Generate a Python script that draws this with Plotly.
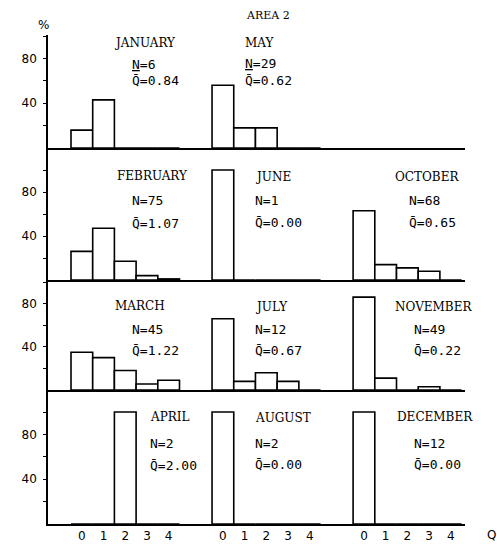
import plotly.graph_objects as go

# Q classes on the horizontal axis of every panel
q_classes = [0, 1, 2, 3, 4]

# Percentage of cases in each Q class, by month
january = [16, 43, 0, 0, 0]
february = [26, 47, 17, 4, 1]
march = [35, 30, 18, 5.5, 9]
april = [0, 0, 100, 0, 0]
may = [56, 18, 18, 0, 0]
june = [100, 0, 0, 0, 0]
july = [66, 8, 16, 8, 0]
august = [100, 0, 0, 0, 0]
october = [63, 14, 11, 8, 0]
november = [86, 11, 0, 3, 0]
december = [100, 0, 0, 0, 0]

month_names = ["JANUARY", "FEBRUARY", "MARCH", "APRIL", "MAY", "JUNE",
               "JULY", "AUGUST", "OCTOBER", "NOVEMBER", "DECEMBER"]
n_values = [6, 75, 45, 2, 29, 1, 12, 2, 68, 49, 12]
q_means = ["0.84", "1.07", "1.22", "2.00", "0.62", "0.00",
           "0.67", "0.00", "0.65", "0.22", "0.00"]
y_tick_values = [20, 40, 60, 80, 100]
y_tick_labels = ["", "40", "", "80", ""]

series = [january, february, march, april, may, june,
          july, august, october, november, december]

W, H = 497, 545


def px(x):
    return x / W


def py(y):
    return 1 - y / H


# Panel grid: (row, column) of each month; columns share one x scale
grid = [(1, 0), (2, 0), (3, 0), (4, 0), (1, 1), (2, 1),
        (3, 1), (4, 1), (2, 2), (3, 2), (4, 2)]
col_offset = [0, 6.5, 13]

# Row baselines / tops (pixels) and the percentage range each row spans
row_bottom = [148, 280, 390, 524]
row_top = [35, 148, 280, 390]
row_scale = [1.12, 1.10, 1.08, 1.12]

# Text placement per panel: month-name left x, stats left x, y of the three lines
text_pos = [
    (112, 130, 43, 65, 81),
    (115, 130, 176, 200, 223),
    (113, 130, 306, 329, 350),
    (148, 148, 417, 443, 465),
    (243, 243, 43, 63, 80),
    (253, 253, 177, 200, 222),
    (253, 253, 307, 329, 350),
    (253, 253, 418, 443, 464),
    (393, 407, 177, 200, 222),
    (393, 412, 307, 329, 350),
    (395, 412, 417, 443, 464),
]

fig = go.Figure()

for i, vals in enumerate(series):
    row, col = grid[i]
    fig.add_trace(go.Bar(
        x=[col_offset[col] + q for q in q_classes],
        y=vals,
        width=1,
        marker=dict(color="white", line=dict(color="black", width=1.6)),
        xaxis="x" if row == 4 else f"x{row + 1}",
        yaxis="y" if row == 4 else f"y{row + 1}",
        showlegend=False,
        hoverinfo="skip",
    ))

x_min = -0.5 - 23 / 21.7
x_max = x_min + (465 - 48) / 21.7
x_domain = [px(48), px(465)]

tick_font = dict(family="DejaVu Sans", size=12, color="black")

layout = dict(
    width=W, height=H,
    margin=dict(l=0, r=0, t=0, b=0),
    paper_bgcolor="white", plot_bgcolor="white",
    barmode="overlay",
    showlegend=False,
)

for r in range(1, 5):
    xa = "xaxis" if r == 4 else f"xaxis{r + 1}"
    ya = "yaxis" if r == 4 else f"yaxis{r + 1}"
    yid = "y" if r == 4 else f"y{r + 1}"
    xid = "x" if r == 4 else f"x{r + 1}"
    bottom = row_bottom[r - 1]
    top = row_top[r - 1]
    layout[xa] = dict(
        domain=x_domain, range=[x_min, x_max], anchor=yid,
        showline=True, linecolor="black", linewidth=1.6,
        showgrid=False, zeroline=False,
        tickvals=[c + q for c in col_offset for q in q_classes] if r == 4 else [],
        ticktext=[str(q) for c in col_offset for q in q_classes] if r == 4 else [],
        showticklabels=(r == 4),
        ticks="", tickfont=tick_font,
        fixedrange=True,
    )
    layout[ya] = dict(
        domain=[py(bottom), py(top)],
        range=[0, (bottom - top) / row_scale[r - 1]],
        anchor=xid,
        showline=True, linecolor="black", linewidth=1.6,
        showgrid=False, zeroline=False,
        tickvals=y_tick_values, ticktext=y_tick_labels,
        ticks="outside", ticklen=3, tickwidth=1.2, tickcolor="black",
        tickfont=tick_font, ticklabelstandoff=4,
        fixedrange=True,
    )

fig.update_layout(**layout)

name_font = dict(family="DejaVu Serif", size=12, color="black")
stat_font = dict(family="DejaVu Sans Mono", size=13, color="black")

annotations = []
for i in range(len(series)):
    name_x, stat_x, y1, y2, y3 = text_pos[i]
    n_label = f"N={n_values[i]}"
    if month_names[i] in ("JANUARY", "MAY"):
        n_label = f"<u>N</u>={n_values[i]}"
    for text, x, y, font in [
        (month_names[i], name_x, y1, name_font),
        (n_label, stat_x, y2, stat_font),
        ("Q\u0304=" + q_means[i], stat_x, y3, stat_font),
    ]:
        annotations.append(dict(
            text=text, x=px(x), y=py(y), xref="paper", yref="paper",
            xanchor="left", yanchor="middle", showarrow=False, font=font,
        ))

annotations += [
    dict(text="AREA 2", x=px(268), y=py(15), xref="paper", yref="paper",
         xanchor="center", yanchor="middle", showarrow=False,
         font=dict(family="DejaVu Serif", size=11, color="black")),
    dict(text="%", x=px(43), y=py(25), xref="paper", yref="paper",
         xanchor="center", yanchor="middle", showarrow=False,
         font=dict(family="DejaVu Sans", size=12, color="black")),
    dict(text="Q", x=px(491), y=py(535), xref="paper", yref="paper",
         xanchor="center", yanchor="middle", showarrow=False,
         font=dict(family="DejaVu Sans", size=12, color="black")),
]
fig.update_layout(annotations=annotations)

fig.write_html("out.html")
